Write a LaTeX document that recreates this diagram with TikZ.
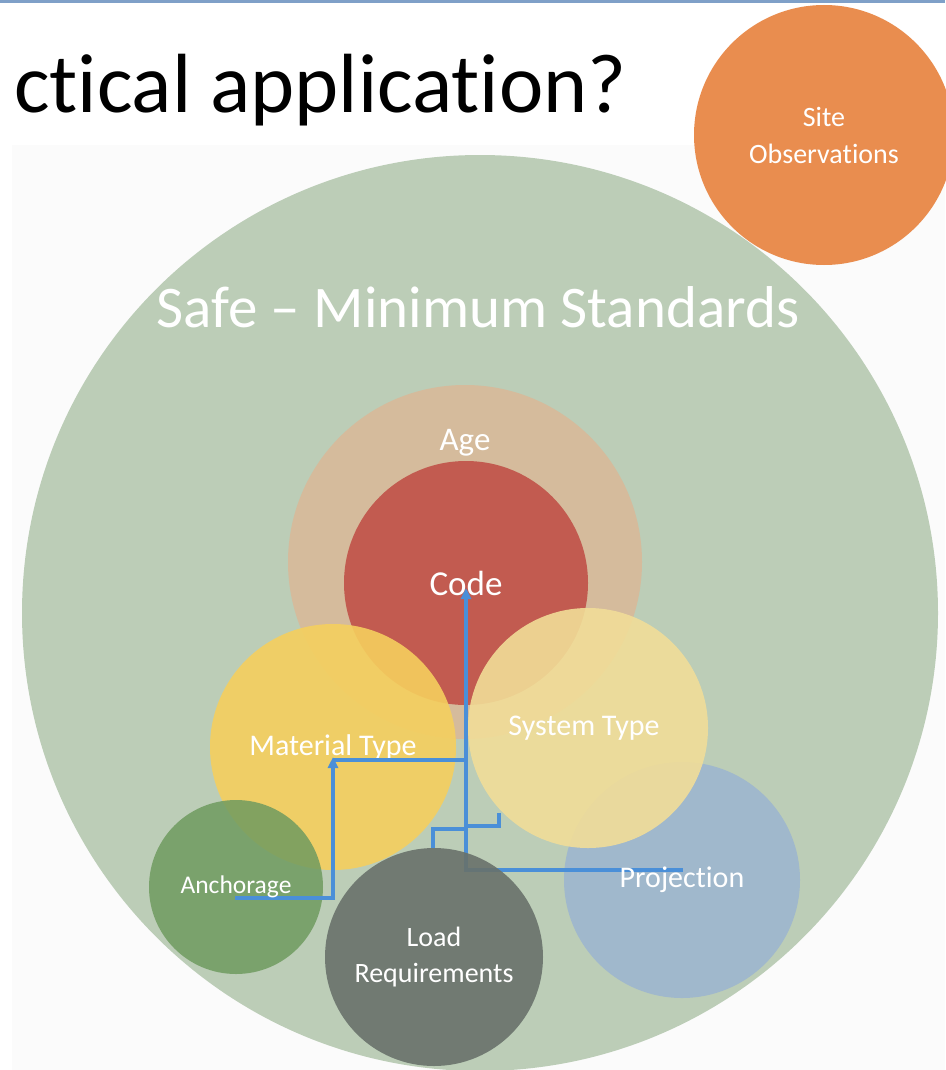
\documentclass[tikz,border=0pt]{standalone}
\usepackage{fontspec}
\setmainfont{Carlito}[Ligatures=NoCommon]
\usetikzlibrary{arrows.meta}
\definecolor{bigG}{HTML}{BCCDB7}
\definecolor{ageC}{HTML}{D5BB9C}
\definecolor{codeC}{HTML}{C25B50}
\definecolor{matC}{HTML}{F5CF5E}
\definecolor{sysC}{HTML}{F1DD98}
\definecolor{projC}{HTML}{A0B8CC}
\definecolor{anchC}{HTML}{6F9B60}
\definecolor{loadC}{HTML}{69726B}
\definecolor{siteC}{HTML}{E98D4F}
\definecolor{lineC}{HTML}{4A8FD8}
\definecolor{topC}{HTML}{7FA0C8}
\tikzset{
  disc/.style={circle, inner sep=0pt, text=white, align=center, minimum size=#1},
  conn/.style={draw=lineC, line width=3.5pt},
  arr/.style={conn, -{Triangle[length=11pt,width=10pt]}},
  lbl/.style={text=white, inner sep=0pt}
}
\begin{document}
\begin{tikzpicture}[x=1pt,y=-1pt]
\useasboundingbox (0,0) rectangle (945,1070);
\fill[white] (0,0) rectangle (945,1070);
\fill[black!1.5] (12,145) rectangle (945,1070);
\fill[topC] (0,0) rectangle (945,3);
% title
\node[anchor=base west, inner sep=0pt, font=\fontsize{84}{90}\selectfont] (title) at (14,113) {ctical application?};
% big circle
\node[disc=916pt, fill=bigG] (safe) at (480,613) {};
\node[lbl, anchor=base, font=\fontsize{59}{64}\selectfont] (safetxt) at (478,327) {Safe – Minimum Standards};
% age
\node[disc=354pt, fill=ageC] (age) at (465,562) {};
\node[lbl, font=\fontsize{33}{36}\selectfont] (agetxt) at (465,443) {Age};
% code
\node[disc=244pt, fill=codeC, font=\fontsize{35}{38}\selectfont] (code) at (466,583) {Code};
% projection
\node[disc=236pt, fill=projC] (proj) at (682,880) {};
% material, system
\node[disc=246pt, fill=matC, fill opacity=0.9, text opacity=1, font=\fontsize{30}{33}\selectfont] (mat) at (333,747) {Material Type};
\node[disc=240pt, fill=sysC, fill opacity=0.9, text opacity=1] (sys) at (588,728) {};
\node[lbl, font=\fontsize{30}{33}\selectfont] (systxt) at (584,728) {System Type};
% anchorage
\node[disc=174pt, fill=anchC, fill opacity=0.85] (anch) at (236,887) {};
% connector coordinates
\coordinate (codetip) at (466,588);
\coordinate (mattip) at (333,757);
\coordinate (matjoin) at (466,760);
\coordinate (anchstart) at (235,898);
\coordinate (projstart) at (683,870);
\coordinate (sysstart) at (499,813);
\coordinate (sysjoin) at (466,826);
\coordinate (loadstart) at (433,848);
\coordinate (loadjoin) at (466,829);
% connectors
\draw[arr] (projstart) -| (codetip);
\draw[arr] (anchstart) -| (mattip);
\draw[conn] (333,760) -- (matjoin);
\draw[conn] (sysstart) |- (sysjoin);
\draw[conn] (loadstart) |- (loadjoin);
% texts over lines
\node[lbl, font=\fontsize{25.5}{28}\selectfont] (anchtxt) at (236,887) {Anchorage};
\node[lbl, font=\fontsize{30}{33}\selectfont] (projtxt) at (682,880) {Projection};
% load
\node[disc=218pt, fill=loadC, fill opacity=0.9, text opacity=1, font=\fontsize{28}{36}\selectfont] (load) at (434,957) {Load\\Requirements};
% site observations
\node[disc=260pt, fill=siteC, font=\fontsize{28}{37}\selectfont] (site) at (824,135) {Site\\Observations};
\end{tikzpicture}
\end{document}
